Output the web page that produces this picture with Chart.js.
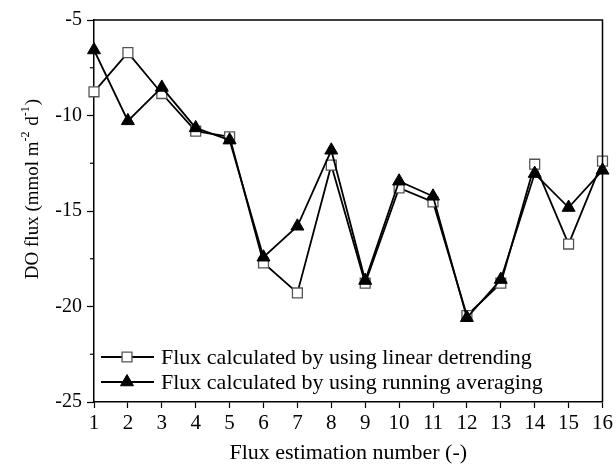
<!DOCTYPE html>
<html>
<head>
<meta charset="utf-8">
<script src="https://cdn.jsdelivr.net/npm/chart.js@4.4.1/dist/chart.umd.min.js"></script>
<style>
  html, body { margin: 0; padding: 0; background: #fff; }
  #wrap { width: 616px; height: 470px; position: relative; }
</style>
</head>
<body>
<div id="wrap"><canvas id="myChart" width="616" height="470"></canvas></div>
<script>
// flux estimation numbers on the x axis
const fluxNumbers = ['1','2','3','4','5','6','7','8','9','10','11','12','13','14','15','16'];

// DO flux, linear detrending (open squares)
const linearDetrending = [-8.76, -6.71, -8.85, -10.82, -11.12, -17.72, -19.29, -12.6,
                          -18.78, -13.79, -14.53, -20.47, -18.78, -12.55, -16.73, -12.39];

// DO flux, running averaging (filled triangles)
const runningAveraging = [-6.57, -10.28, -8.53, -10.65, -11.29, -17.42, -15.80, -11.82,
                          -18.64, -13.44, -14.23, -20.59, -18.59, -13.04, -14.82, -12.87];

const yTicks = [-25, -20, -15, -10, -5];
const yMinorTicks = [-22.5, -17.5, -12.5, -7.5];

const legendLabels = ['Flux calculated by using linear detrending',
                      'Flux calculated by using running averaging'];

const serif = '"Liberation Serif", "Times New Roman", "DejaVu Serif", serif';

// frame, minor ticks, y title with superscripts and the legend box inside the plot
const extras = {
  id: 'extras',
  afterDraw(chart) {
    const ctx = chart.ctx;
    const a = chart.chartArea;
    const ys = chart.scales.y;
    ctx.save();

    // top and right frame lines
    ctx.strokeStyle = '#000';
    ctx.lineWidth = 1.5;
    ctx.beginPath();
    ctx.moveTo(a.left, a.top);
    ctx.lineTo(a.right, a.top);
    ctx.lineTo(a.right, a.bottom);
    ctx.stroke();

    // minor ticks on y
    ctx.lineWidth = 1.2;
    yMinorTicks.forEach(v => {
      const py = ys.getPixelForValue(v);
      ctx.beginPath();
      ctx.moveTo(a.left - 4, py);
      ctx.lineTo(a.left, py);
      ctx.stroke();
    });

    // y title
    ctx.fillStyle = '#000';
    ctx.textBaseline = 'middle';
    ctx.textAlign = 'left';
    const parts = [
      ['DO flux (mmol m', false], ['-2', true], [' d', false], ['-1', true], [')', false]
    ];
    const big = '19px ' + serif, small = '12px ' + serif;
    let total = 0;
    parts.forEach(p => { ctx.font = p[1] ? small : big; total += ctx.measureText(p[0]).width + (p[1] ? 1 : 0); });
    ctx.translate(33, 189);
    ctx.rotate(-Math.PI / 2);
    let cx = -total / 2;
    parts.forEach(p => {
      ctx.font = p[1] ? small : big;
      ctx.fillText(p[0], cx, p[1] ? -7 : 0);
      cx += ctx.measureText(p[0]).width + (p[1] ? 1 : 0);
    });
    ctx.setTransform(1, 0, 0, 1, 0, 0);

    // legend
    const rows = [357, 382];
    const ds = chart.data.datasets;
    rows.forEach((ry, i) => {
      const d = ds[i];
      ctx.strokeStyle = '#000';
      ctx.lineWidth = 1.8;
      ctx.beginPath();
      ctx.moveTo(a.left + 7, ry);
      ctx.lineTo(a.left + 60, ry);
      ctx.stroke();
      ctx.fillStyle = d.pointBackgroundColor;
      ctx.strokeStyle = d.pointBorderColor;
      ctx.lineWidth = d.pointBorderWidth;
      Chart.helpers.drawPoint(ctx, { pointStyle: d.pointStyle, radius: d.pointRadius, borderWidth: d.pointBorderWidth }, a.left + 33, ry);
      ctx.fillStyle = '#000';
      ctx.font = '22px ' + serif;
      ctx.textAlign = 'left';
      ctx.textBaseline = 'middle';
      ctx.fillText(legendLabels[i], a.left + 67, ry + 1);
    });
    ctx.restore();
  }
};

new Chart(document.getElementById('myChart'), {
  type: 'line',
  data: {
    labels: fluxNumbers,
    datasets: [
      {
        label: legendLabels[0],
        data: linearDetrending,
        borderColor: '#000',
        borderWidth: 1.8,
        pointStyle: 'rect',
        pointRadius: 7,
        pointBorderWidth: 1.3,
        pointBorderColor: '#555',
        pointBackgroundColor: '#fff',
        tension: 0,
        order: 1
      },
      {
        label: legendLabels[1],
        data: runningAveraging,
        borderColor: '#000',
        borderWidth: 1.8,
        pointStyle: 'triangle',
        pointRadius: 7.5,
        pointBorderWidth: 1,
        pointBorderColor: '#000',
        pointBackgroundColor: '#000',
        tension: 0,
        order: 0
      }
    ]
  },
  options: {
    responsive: false,
    animation: false,
    layout: { padding: { left: 0, right: 10, top: 20, bottom: 0 } },
    plugins: {
      legend: { display: false },
      tooltip: { enabled: false }
    },
    scales: {
      x: {
        type: 'category',
        offset: false,
        border: { color: '#000', width: 1.5 },
        grid: { drawOnChartArea: false, drawTicks: true, tickLength: 6, color: '#000', tickWidth: 1.2 },
        ticks: { color: '#000', font: { family: serif, size: 21 }, padding: 3, maxRotation: 0, autoSkip: false },
        afterFit(s) { s.height = 68; },
        title: { display: true, text: 'Flux estimation number (-)', color: '#000', font: { family: serif, size: 22 }, padding: { top: 1 } }
      },
      y: {
        min: -25,
        max: -5,
        afterBuildTicks(s) { s.ticks = yTicks.map(v => ({ value: v })); },
        border: { color: '#000', width: 1.5 },
        grid: { drawOnChartArea: false, drawTicks: true, tickLength: 7, color: '#000', tickWidth: 1.2 },
        ticks: { color: '#000', font: { family: serif, size: 20 }, padding: 5 },
        afterFit(s) { s.width = 94; }
      }
    }
  },
  plugins: [extras]
});
</script>
</body>
</html>
